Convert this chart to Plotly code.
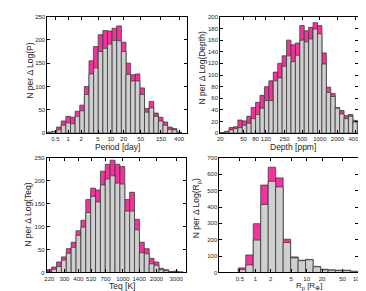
import numpy as np
import plotly.graph_objects as go

# ---------------- data ----------------
period_total = [2, 4, 13, 26, 36, 34, 47, 60, 100, 155, 186, 211, 220, 219, 225, 230,
                195, 150, 125, 127, 97, 53, 68, 43, 34, 24, 13, 10, 2]
period_gray = [2, 3, 7, 17, 22, 20, 36, 48, 83, 127, 140, 175, 182, 191, 199, 198,
               175, 126, 112, 112, 83, 45, 54, 36, 26, 17, 8, 7, 2]
period_ticks = [0.5, 1, 2, 5, 10, 20, 50, 150, 400]

depth_total = [1, 3, 9.5, 11, 22.5, 21, 29, 44, 53, 65, 80, 90, 105, 120, 133, 160,
               152, 155, 185, 176, 182, 190, 185, 138, 79, 68, 44, 39, 30, 32, 22]
depth_gray = [1, 2, 5.6, 8, 9.5, 13.5, 17, 25, 32, 43, 56, 56, 90, 95, 115, 133,
              123, 134, 160, 157, 162, 179, 171, 119, 70, 63, 43, 33, 25, 29, 19]
depth_ticks = [20, 50, 80, 120, 250, 500, 1000, 2000, 4000]

teq_total = [6, 12, 23, 34, 52, 66, 91, 114, 159, 184, 180, 221, 236, 245, 236, 231,
             159, 175, 116, 66, 52, 31, 23, 9, 6, 2, 3, 1]
teq_gray = [2, 7, 13, 27, 42, 55, 81, 99, 131, 166, 154, 191, 204, 211, 195, 193,
            134, 134, 93, 43, 41, 19, 16, 6, 4, 1, 2, 1]
teq_ticks = [220, 300, 400, 520, 700, 1000, 1400, 2000, 3000]

rp_total = [28, 107, 298, 534, 643, 578, 203, 95, 75, 80, 37, 20, 16, 14, 14, 7]
rp_gray = [18, 46, 198, 416, 557, 523, 183, 89, 72, 78, 35, 17, 14, 12, 12, 7]
rp_ticks = [0.5, 1, 2, 5, 10, 20, 50, 100]

# ---------------- style ----------------
W, H = 366, 291
PINK = '#f2339b'
GRAY = '#cfcfcf'
EDGE = '#3c3c3c'
FONT = 'Liberation Sans, Arial, sans-serif'

# panel geometry (pixels) and title positions (pixels)
panels = [
    dict(px=(37.3, 180.0), py=(5.7, 124.7), xr=(-0.489, 2.777), b0=-0.489, bw=0.1085,
         yr=250, dy=50, tot=period_total, gr=period_gray, ticks=period_ticks,
         xt='Period [day]', xtp=(109.3, 139.0), xfs=8.5,
         yt='N per \u0394 Log(P)', ytp=(19.5, 61)),
    dict(px=(214.5, 355.7), py=(6.0, 124.7), xr=(1.301, 3.650), b0=1.301, bw=0.0754,
         yr=200, dy=20, tot=depth_total, gr=depth_gray, ticks=depth_ticks,
         xt='Depth [ppm]', xtp=(289.5, 139.0), xfs=8.5,
         yt='N per \u0394 Log(Depth)', ytp=(195.5, 58)),
    dict(px=(36.7, 179.3), py=(150.0, 267.0), xr=(2.3197, 3.564), b0=2.3197, bw=0.0436,
         yr=250, dy=50, tot=teq_total, gr=teq_gray, ticks=teq_ticks,
         xt='Teq [K]', xtp=(114.0, 281.0), xfs=8.5,
         yt='N per \u0394 Log(Teq)', ytp=(17.5, 208)),
    dict(px=(213.7, 355.7), py=(150.0, 267.0), xr=(-0.699, 2.0), b0=-0.332, bw=0.14575,
         yr=700, dy=100, tot=rp_total, gr=rp_gray, ticks=rp_ticks,
         xt='R<sub>p</sub> [R<sub>\u2295</sub>]', xtp=(306.0, 281.0), xfs=8,
         yt='N per \u0394 Log(R<sub>p</sub>)', ytp=(191.0, 201)),
]

fig = go.Figure()
layout = {}
annotations = []
for i, p in enumerate(panels):
    n = i + 1
    xa = 'x' if n == 1 else f'x{n}'
    ya = 'y' if n == 1 else f'y{n}'
    k = len(p['tot'])
    lo = 10 ** (p['b0'] + p['bw'] * np.arange(k))
    hi = 10 ** (p['b0'] + p['bw'] * (np.arange(k) + 1))
    for vals, col in ((p['tot'], PINK), (p['gr'], GRAY)):
        fig.add_trace(go.Bar(x=lo, y=vals, width=hi - lo, offset=0,
                             marker=dict(color=col, line=dict(color=EDGE, width=0.8)),
                             xaxis=xa, yaxis=ya, showlegend=False, hoverinfo='skip'))
    axcommon = dict(showline=True, linecolor='black', linewidth=1, mirror='ticks',
                    ticks='inside', ticklen=3, tickwidth=0.8, tickcolor='black',
                    showgrid=False, zeroline=False,
                    tickfont=dict(family=FONT, size=6, color='#222'))
    layout['xaxis' if n == 1 else f'xaxis{n}'] = dict(
        axcommon, type='log', range=list(p['xr']), tickangle=0,
        domain=[p['px'][0] / W, p['px'][1] / W], anchor=ya,
        tickmode='array', tickvals=p['ticks'], ticktext=[str(t) for t in p['ticks']])
    layout['yaxis' if n == 1 else f'yaxis{n}'] = dict(
        axcommon, range=[0, p['yr']], dtick=p['dy'],
        domain=[1 - p['py'][1] / H, 1 - p['py'][0] / H], anchor=xa)
    annotations.append(dict(text=p['xt'], x=p['xtp'][0] / W, y=1 - p['xtp'][1] / H,
                            xref='paper', yref='paper', xanchor='center', yanchor='middle',
                            showarrow=False, borderpad=0,
                            font=dict(family=FONT, size=p['xfs'], color='#222')))
    annotations.append(dict(text=p['yt'], x=p['ytp'][0] / W, y=1 - p['ytp'][1] / H,
                            xref='paper', yref='paper', xanchor='center', yanchor='middle',
                            textangle=-90, showarrow=False, borderpad=0,
                            font=dict(family=FONT, size=8.5, color='#222')))

fig.update_layout(**layout)
fig.update_layout(width=W, height=H, margin=dict(l=0, r=0, t=0, b=0),
                  barmode='overlay', plot_bgcolor='white', paper_bgcolor='white',
                  font=dict(family=FONT, color='#222'), annotations=annotations)
fig.write_html('out.html')
